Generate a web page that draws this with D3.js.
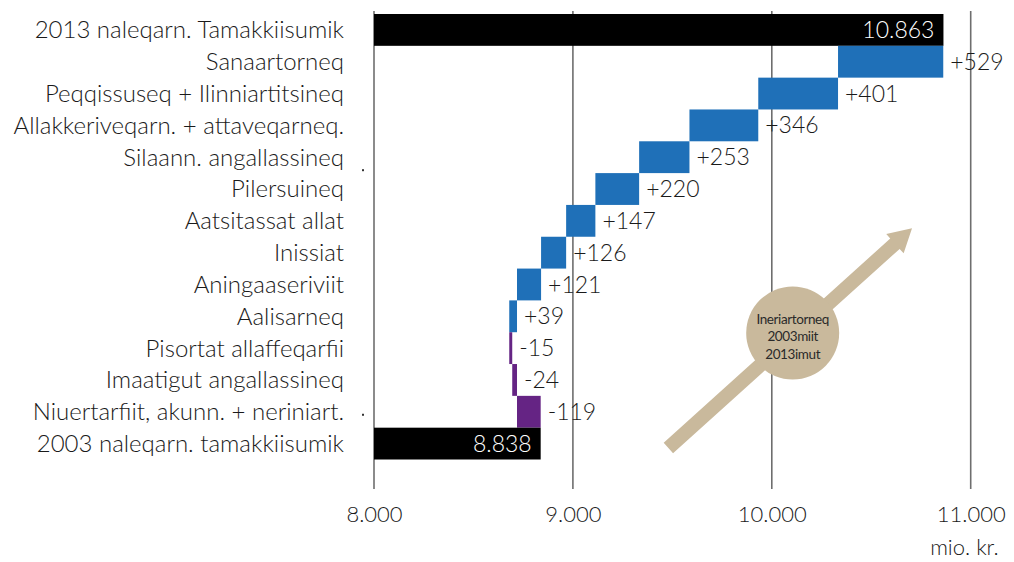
<!DOCTYPE html>
<html>
<head>
<meta charset="utf-8">
<script src="https://cdn.jsdelivr.net/npm/d3@7"></script>
<style>
  html, body { margin: 0; padding: 0; background: #fff; }
  svg { display: block; }
  text { font-family: Lato, "Open Sans", sans-serif; font-weight: 300; fill: #1a1a1a; }
</style>
</head>
<body>
<svg id="chart" width="1014" height="562"></svg>
<script>
// ---- data (top row first) ----
const categories = [
  "2013 naleqarn. Tamakkiisumik",
  "Sanaartorneq",
  "Peqqissuseq + Ilinniartitsineq",
  "Allakkeriveqarn. + attaveqarneq.",
  "Silaann. angallassineq",
  "Pilersuineq",
  "Aatsitassat allat",
  "Inissiat",
  "Aningaaseriviit",
  "Aalisarneq",
  "Pisortat allaffeqarfii",
  "Imaatigut angallassineq",
  "Niuertarfiit, akunn. + neriniart.",
  "2003 naleqarn. tamakkiisumik"
];
const values = [10863, 529, 401, 346, 253, 220, 147, 126, 121, 39, -15, -24, -119, 8838];
const kinds = ["total","inc","inc","inc","inc","inc","inc","inc","inc","inc","dec","dec","dec","total"];
const tickValues = [8000, 9000, 10000, 11000];
const axisUnit = "mio. kr.";
const noteLines = ["Ineriartorneq", "2003miit", "2013imut"];

// ---- styles ----
const colors = { total: "#000000", inc: "#1f70b8", dec: "#652484" };
const valueFont = 23, catFont = 24, tickFont = 22;

const svg = d3.select("#chart");
const x = d3.scaleLinear().domain([8000, 11000]).range([374, 970.7]);
const y = d3.scaleBand().domain(categories).range([14, 459.5]).padding(0);

const locale = d3.formatLocale({ decimal: ",", thousands: ".", grouping: [3], currency: ["", ""] });
const fmt = locale.format(",");

// waterfall computation (bottom-up)
const rows = categories.map((c, i) => ({ cat: c, value: values[i], kind: kinds[i] }));
let running = values[values.length - 1];
for (let i = rows.length - 2; i >= 1; i--) {
  const r = rows[i];
  r.start = running;
  r.end = running + r.value;
  running = r.end;
}
rows.forEach(r => {
  if (r.kind === "total") { r.start = x.domain()[0]; r.end = r.value; }
  r.lo = Math.min(r.start, r.end);
  r.hi = Math.max(r.start, r.end);
});

// gridlines
svg.append("g").selectAll("line").data(tickValues).join("line")
  .attr("x1", d => x(d)).attr("x2", d => x(d))
  .attr("y1", 11).attr("y2", 489)
  .attr("stroke", "#6e6e6e").attr("stroke-width", 1.6);

// bars
svg.append("g").selectAll("rect").data(rows).join("rect")
  .attr("x", d => x(d.lo))
  .attr("width", d => Math.max(1.5, x(d.hi) - x(d.lo)))
  .attr("y", d => y(d.cat))
  .attr("height", y.bandwidth())
  .attr("fill", d => colors[d.kind]);

// value labels
svg.append("g").selectAll("text").data(rows).join("text")
  .attr("x", d => d.kind === "total" ? x(d.hi) - 9 : x(d.hi) + 7)
  .attr("y", d => y(d.cat) + y.bandwidth() / 2)
  .attr("dy", "0.35em")
  .attr("text-anchor", d => d.kind === "total" ? "end" : "start")
  .style("font-size", valueFont + "px")
  .style("fill", d => d.kind === "total" ? "#ffffff" : "#1a1a1a")
  .text(d => d.kind === "total" ? fmt(d.value) : (d.value > 0 ? "+" + d.value : "-" + Math.abs(d.value)));

// category labels
svg.append("g").selectAll("text").data(rows).join("text")
  .attr("x", 344)
  .attr("y", d => y(d.cat) + y.bandwidth() / 2)
  .attr("dy", "0.35em")
  .attr("text-anchor", "end")
  .style("font-size", catFont + "px")
  .text(d => d.cat);

// stray small marks as in the original
svg.append("g").selectAll("rect").data([categories[4], categories[12]]).join("rect")
  .attr("x", 362).attr("y", d => y(d) + y.bandwidth() / 2 + (d === categories[4] ? 12 : 2))
  .attr("width", 2).attr("height", 2).attr("fill", "#333");

// x axis labels
const axis = d3.axisBottom(x).tickValues(tickValues).tickFormat(fmt).tickSize(0).tickPadding(0);
const gAxis = svg.append("g").attr("transform", "translate(0,506)").call(axis);
gAxis.select(".domain").remove();
gAxis.selectAll("text")
  .attr("dy", "0.71em")
  .style("font-size", tickFont + "px")
  .style("font-family", "Lato, sans-serif")
  .style("font-weight", 300)
  .attr("fill", "#1a1a1a");

svg.append("text")
  .attr("x", x(11000) + 28).attr("y", 555)
  .attr("text-anchor", "end")
  .style("font-size", tickFont + "px")
  .text(axisUnit);

// annotation arrow
const tail = [x(9480), 448];
const tip = [x(10705), 228.3];
const dx = tip[0] - tail[0], dy = tip[1] - tail[1];
const len = Math.hypot(dx, dy);
const ang = Math.atan2(dy, dx) * 180 / Math.PI;
const sw = 7, hl = 23, hw = 13;
const arrow = svg.append("g").attr("transform", `translate(${tail[0]},${tail[1]}) rotate(${ang})`);
arrow.append("path")
  .attr("d", `M0,${-sw} L${len - hl},${-sw} L${len - hl},${-hw} L${len},0 L${len - hl},${hw} L${len - hl},${sw} L0,${sw} Z`)
  .attr("fill", "#c9b99c");

const cx = x(10105), cy = 333;
svg.append("circle").attr("cx", cx).attr("cy", cy).attr("r", 46.5).attr("fill", "#c9b99c");
svg.append("g").selectAll("text").data(noteLines).join("text")
  .attr("x", cx).attr("y", (d, i) => cy - 14 + i * 17.5)
  .attr("dy", "0.35em")
  .attr("text-anchor", "middle")
  .style("font-size", "13.5px")
  .style("font-weight", 400)
  .style("letter-spacing", "-0.4px")
  .style("fill", "#2a2a2a")
  .text(d => d);
</script>
</body>
</html>
